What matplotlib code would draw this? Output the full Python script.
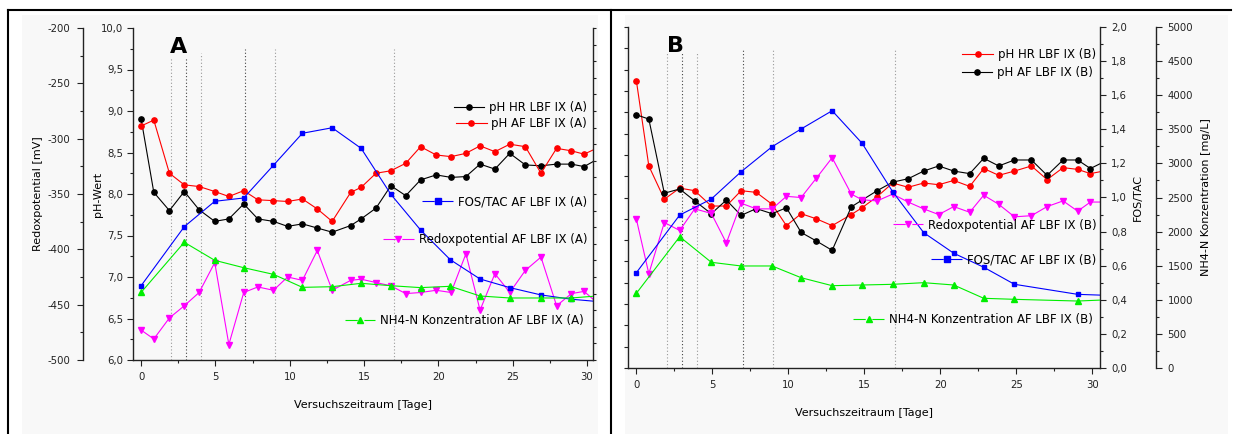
import matplotlib.pyplot as plt
from matplotlib.lines import Line2D
from matplotlib.legend import Legend
from matplotlib.patches import Rectangle
from matplotlib.ticker import MultipleLocator, FuncFormatter, NullFormatter

plt.rcParams['font.family'] = 'DejaVu Sans'

# ---- data ----
marker_days = [2, 3, 4, 7, 9, 17]

days_A = [0, 0.85, 1.9, 2.9, 3.9, 4.95, 5.9, 6.9, 7.85, 8.9, 9.85, 10.85, 11.85, 12.85,
          14.1, 14.8, 15.8, 16.8, 17.8, 18.8, 19.85, 20.85, 21.85, 22.8, 23.8, 24.8,
          25.85, 26.9, 27.95, 28.95, 29.8, 31.0]
ph_hr_A = [8.90, 8.02, 7.80, 8.03, 7.81, 7.67, 7.70, 7.88, 7.70, 7.67, 7.61, 7.64, 7.59, 7.54,
           7.62, 7.70, 7.83, 8.10, 7.98, 8.17, 8.23, 8.20, 8.21, 8.36, 8.30, 8.49,
           8.35, 8.34, 8.36, 8.36, 8.33, 8.45]
ph_af_A = [8.82, 8.89, 8.25, 8.11, 8.09, 8.03, 7.97, 8.04, 7.93, 7.92, 7.91, 7.94, 7.82, 7.67,
           8.02, 8.08, 8.25, 8.28, 8.37, 8.57, 8.47, 8.45, 8.49, 8.58, 8.51, 8.60,
           8.57, 8.25, 8.55, 8.52, 8.48, 8.58]
redox_A = [-473, -481, -462, -451, -439, -412, -486, -439, -434, -437, -425, -428, -401, -437,
           -428, -427, -430, -433, -440, -439, -437, -439, -404, -455, -422, -439,
           -419, -407, -451, -440, -438, -452]
fos_days_A = [0, 2.9, 4.95, 6.9, 8.9, 10.85, 12.85, 14.8, 16.8, 18.8, 20.8, 22.8, 24.8,
              26.9, 28.95, 31.0]
fos_A = [0.448, 0.803, 0.956, 0.976, 1.173, 1.366, 1.399, 1.275, 0.998, 0.783, 0.604, 0.488,
         0.436, 0.392, 0.366, 0.35]
nh4_A = [1019, 1773, 1501, 1390, 1290, 1094, 1104, 1155, 1119, 1090, 1110, 964, 934, 934,
         934, 970]

days_B = [0, 0.82, 1.84, 2.85, 3.84, 4.93, 5.92, 6.89, 7.89, 8.93, 9.87, 10.84, 11.84, 12.88,
          14.14, 14.85, 15.84, 16.86, 17.88, 18.9, 19.89, 20.88, 21.93, 22.85, 23.84, 24.87,
          25.99, 27.02, 28.07, 29.03, 29.87, 31.0]
ph_hr_B = [9.37, 8.37, 7.98, 8.11, 8.08, 7.90, 7.90, 8.08, 8.06, 7.92, 7.67, 7.81, 7.75, 7.67,
           7.80, 7.88, 8.01, 8.17, 8.12, 8.17, 8.15, 8.20, 8.13, 8.34, 8.26, 8.31,
           8.37, 8.21, 8.35, 8.33, 8.28, 8.32]
ph_af_B = [8.97, 8.92, 8.05, 8.10, 7.96, 7.81, 7.97, 7.79, 7.87, 7.81, 7.88, 7.59, 7.49, 7.38,
           7.89, 7.97, 8.08, 8.18, 8.22, 8.31, 8.37, 8.31, 8.28, 8.46, 8.37, 8.44,
           8.44, 8.26, 8.44, 8.44, 8.34, 8.44]
redox_B = [-369, -417, -372, -379, -360, -364, -390, -355, -360, -360, -349, -350, -333, -315,
           -347, -352, -353, -347, -354, -360, -365, -358, -363, -348, -356, -367,
           -366, -358, -353, -362, -354, -354]
fos_days_B = [0, 2.85, 4.93, 6.89, 8.93, 10.84, 12.88, 14.85, 16.86, 18.9, 20.88, 22.85,
              24.87, 29.03, 31.0]
fos_B = [0.559, 0.897, 0.991, 1.151, 1.298, 1.402, 1.509, 1.318, 1.034, 0.794, 0.673, 0.591,
         0.491, 0.432, 0.426]
nh4_B = [1095, 1925, 1550, 1496, 1496, 1324, 1207, 1217, 1227, 1251, 1217, 1022, 1007, 982,
         1000]

# ---- layout helpers (pixel boxes of the reference) ----
W, H = 1233, 434
def box(l, t, r, b):
    return [l / W, 1 - b / H, (r - l) / W, (b - t) / H]

comma1 = FuncFormatter(lambda v, p: f'{v:.1f}'.replace('.', ','))
whole = FuncFormatter(lambda v, p: f'{v:.0f}')
TICK = 7.3
LAB = 8
SPINE = '#222222'
GREEN = '#00ee00'

def yaxis_style(ax, side, major, minor, fmt, pad):
    ax.yaxis.set_major_locator(MultipleLocator(major))
    ax.yaxis.set_minor_locator(MultipleLocator(minor))
    ax.yaxis.set_major_formatter(fmt)
    ax.tick_params(axis='y', which='major', direction='out', length=4.3, width=0.8,
                   labelsize=TICK, pad=pad, colors=SPINE)
    ax.tick_params(axis='y', which='minor', direction='out', length=2.2, width=0.8, colors=SPINE)
    ax.spines[side].set_color(SPINE)
    ax.spines[side].set_linewidth(1.0)

def xaxis_style(ax):
    ax.xaxis.set_major_locator(MultipleLocator(5))
    ax.xaxis.set_minor_locator(MultipleLocator(2.5))
    ax.tick_params(axis='x', which='major', direction='out', length=4.3, width=0.8,
                   labelsize=TICK, pad=4, colors=SPINE)
    ax.tick_params(axis='x', which='minor', direction='out', length=2.2, width=0.8, colors=SPINE)
    ax.spines['bottom'].set_color(SPINE)
    ax.spines['bottom'].set_linewidth(1.0)
    ax.set_xlabel('Versuchszeitraum [Tage]', fontsize=LAB, labelpad=13)

def only_spines(ax, keep):
    for s in ['left', 'right', 'top', 'bottom']:
        ax.spines[s].set_visible(s in keep)

def key(ax, color, marker, label, x, y, gap):
    # one separate legend per series, as Origin places them
    ls = (0, (11, 6, 11)) if gap else '-'
    h = Line2D([], [], color=color, marker=marker, ms=3.8, lw=0.8, ls=ls)
    leg = Legend(ax, [h], [label], loc='center right', bbox_to_anchor=(x, y),
                 frameon=False, fontsize=8.5, handlelength=2.6, handletextpad=0.4,
                 borderpad=0, borderaxespad=0, numpoints=1)
    ax.add_artist(leg)

fig = plt.figure(figsize=(12.33, 4.34), dpi=100)

# faint panel backgrounds and the black frame
fig.add_artist(Rectangle((22 / W, 0), 576 / W, 1 - 15 / H, transform=fig.transFigure,
                         facecolor='#f8f8f8', edgecolor='none', zorder=-5))
fig.add_artist(Rectangle((625 / W, 0), 603 / W, 1 - 15 / H, transform=fig.transFigure,
                         facecolor='#f8f8f8', edgecolor='none', zorder=-5))
for xs, ys in [([8, 1231], [10, 10]), ([8, 8], [10, 434]), ([611, 611], [10, 434])]:
    fig.add_artist(Line2D([x / W for x in xs], [1 - y / H for y in ys],
                          transform=fig.transFigure, color='black', lw=1.5))

vline_tops_A = [0.91, 0.91, 0.925, 0.937, 0.937, 0.937]
vline_tops_B = [0.928, 0.928, 0.928, 0.9375, 0.9375, 0.9375]
vline_cols = ['#999999', '#444444', '#999999', '#444444', '#999999', '#999999']

# ================= panel A =================
axA = fig.add_axes(box(133, 28, 593, 360))
axA.set_facecolor('none')
redA = axA.twinx()
fosA = axA.twinx()
nhA = axA.twinx()

for d, top, c in zip(marker_days, vline_tops_A, vline_cols):
    axA.axvline(d, ymin=0, ymax=top, color=c, ls=(0, (1, 2)), lw=0.8, zorder=0)

axA.plot(days_A, ph_hr_A, color='black', marker='o', ms=3.8, lw=0.8)
axA.plot(days_A, ph_af_A, color='red', marker='o', ms=3.8, lw=0.8)
redA.plot(days_A, redox_A, color='magenta', marker='v', ms=3.8, lw=0.8)
fosA.plot(fos_days_A, fos_A, color='blue', marker='s', ms=3.4, lw=0.8)
nhA.plot(fos_days_A, nh4_A, color=GREEN, marker='^', ms=3.8, lw=0.8)

axA.set_xlim(-0.55, 30.4)
axA.set_ylim(6, 10)
redA.set_ylim(-500, -200)
fosA.set_ylim(0, 2)
nhA.set_ylim(0, 5000)

only_spines(axA, ['left', 'bottom'])
yaxis_style(axA, 'left', 0.5, 0.25, comma1, 2.5)
xaxis_style(axA)
axA.set_ylabel('pH-Wert', fontsize=LAB, labelpad=-1)

only_spines(redA, ['left'])
redA.spines['left'].set_position(('outward', 36))
redA.yaxis.set_ticks_position('left')
redA.yaxis.set_label_position('left')
yaxis_style(redA, 'left', 50, 25, whole, 5)
redA.set_ylabel('Redoxpotential [mV]', fontsize=LAB, labelpad=3)

only_spines(fosA, ['right'])
yaxis_style(fosA, 'right', 0.2, 0.1, NullFormatter(), 3)
fosA.tick_params(axis='y', which='both', length=2.2)
nhA.axis('off')

axA.text(0.098, 0.944, 'A', transform=axA.transAxes, fontsize=16, fontweight='bold',
         ha='center', va='center')

key(nhA, 'black', 'o', 'pH HR LBF IX (A)', 0.987, 0.761, False)
key(nhA, 'red', 'o', 'pH AF LBF IX (A)', 0.987, 0.711, False)
key(nhA, 'blue', 's', 'FOS/TAC AF LBF IX (A)', 0.987, 0.477, True)
key(nhA, 'magenta', 'v', 'Redoxpotential AF LBF IX (A)', 0.987, 0.364, True)
key(nhA, GREEN, '^', 'NH4-N Konzentration AF LBF IX (A)', 0.980, 0.118, True)

# ================= panel B =================
axB = fig.add_axes(box(628, 27, 1100, 368))
axB.set_facecolor('none')
redB = axB.twinx()
fosB = axB.twinx()
nhB = axB.twinx()

for d, top, c in zip(marker_days, vline_tops_B, vline_cols):
    axB.axvline(d, ymin=0, ymax=top, color=c, ls=(0, (1, 2)), lw=0.8, zorder=0)

axB.plot(days_B, ph_hr_B, color='red', marker='o', ms=3.8, lw=0.8)
axB.plot(days_B, ph_af_B, color='black', marker='o', ms=3.8, lw=0.8)
redB.plot(days_B, redox_B, color='magenta', marker='v', ms=3.8, lw=0.8)
fosB.plot(fos_days_B, fos_B, color='blue', marker='s', ms=3.4, lw=0.8)
nhB.plot(fos_days_B, nh4_B, color=GREEN, marker='^', ms=3.8, lw=0.8)

axB.set_xlim(-0.55, 30.5)
axB.set_ylim(6, 10)
redB.set_ylim(-500, -200)
fosB.set_ylim(0, 2)
nhB.set_ylim(0, 5000)

only_spines(axB, ['left', 'bottom'])
yaxis_style(axB, 'left', 0.5, 0.25, NullFormatter(), 3)
axB.tick_params(axis='y', which='both', length=3)
xaxis_style(axB)
redB.axis('off')

only_spines(fosB, ['right'])
yaxis_style(fosB, 'right', 0.2, 0.1, comma1, 3.6)
fosB.set_ylabel('FOS/TAC', fontsize=LAB, labelpad=4.5)

only_spines(nhB, ['right'])
nhB.spines['right'].set_position(('outward', 40.3))
yaxis_style(nhB, 'right', 500, 250, whole, 4)
nhB.set_ylabel('NH4-N Konzentration [mg/L]', fontsize=LAB, labelpad=6)

axB.text(0.0996, 0.943, 'B', transform=axB.transAxes, fontsize=16, fontweight='bold',
         ha='center', va='center')

key(nhB, 'red', 'o', 'pH HR LBF IX (B)', 0.9915, 0.918, False)
key(nhB, 'black', 'o', 'pH AF LBF IX (B)', 0.985, 0.866, False)
key(nhB, 'magenta', 'v', 'Redoxpotential AF LBF IX (B)', 0.993, 0.419, True)
key(nhB, 'blue', 's', 'FOS/TAC AF LBF IX (B)', 0.9915, 0.317, True)
key(nhB, GREEN, '^', 'NH4-N Konzentration AF LBF IX (B)', 0.984, 0.143, True)

fig.savefig('out.png', dpi=100)
